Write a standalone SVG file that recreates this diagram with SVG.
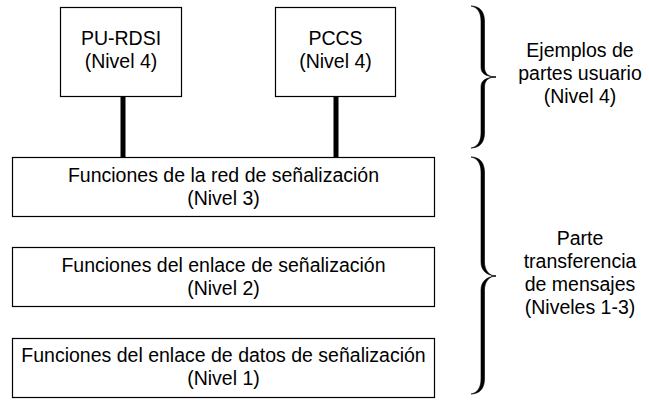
<svg xmlns="http://www.w3.org/2000/svg" width="649" height="400" viewBox="0 0 649 400">
<style>
.box{fill:#fff;stroke:#000;stroke-width:1.2}
.t{font-family:"Liberation Sans",Arial,sans-serif;font-size:19.5px;fill:#000;text-anchor:middle}
.conn{stroke:#000;stroke-width:5;fill:none}
.brace{fill:#000;stroke:#000;stroke-width:0.6}
</style>
<defs>
<path id="braceTop" class="brace" d="M0,0 C8,0 13.5,5 13.5,15 L13.5,61 C13.5,68 18,71 25,71 C18,71 13.5,74 13.5,81 L13.5,127 C13.5,137 8,142 0,142 C6,141 10,136 10,127 L10,81 C10,74 15,71.5 25,71 C15,70.5 10,68 10,61 L10,15 C10,6 6,1 0,0 Z"/>
<path id="braceBot" class="brace" d="M0,0 C8,0 13.5,5 13.5,15 L13.5,105 C13.5,113 18,119 25,119 C18,119 13.5,125 13.5,133 L13.5,222 C13.5,232 8,237 0,237 C6,236 10,231 10,222 L10,133 C10,125 15,119.5 25,119 C15,118.5 10,113 10,105 L10,15 C10,6 6,1 0,0 Z"/>
</defs>
<rect width="649" height="400" fill="#fff"/>
<g id="connectors">
<line class="conn" x1="123" y1="97" x2="123" y2="157"/>
<line class="conn" x1="336" y1="97" x2="336" y2="157"/>
</g>
<g id="pu-rdsi">
<rect class="box" x="60.5" y="7.5" width="121" height="89"/>
<text class="t" x="121" y="45">PU-RDSI</text>
<text class="t" x="121" y="68">(Nivel 4)</text>
</g>
<g id="pccs">
<rect class="box" x="275.5" y="7.5" width="120" height="89"/>
<text class="t" x="335.5" y="45">PCCS</text>
<text class="t" x="335.5" y="68">(Nivel 4)</text>
</g>
<g id="nivel3">
<rect class="box" x="12.5" y="157.5" width="422" height="59"/>
<text class="t" x="223.5" y="182">Funciones de la red de señalización</text>
<text class="t" x="223.5" y="205">(Nivel 3)</text>
</g>
<g id="nivel2">
<rect class="box" x="12.5" y="247.5" width="422" height="59"/>
<text class="t" x="223.5" y="272">Funciones del enlace de señalización</text>
<text class="t" x="223.5" y="295">(Nivel 2)</text>
</g>
<g id="nivel1">
<rect class="box" x="12.5" y="338.5" width="422" height="59"/>
<text class="t" x="223.5" y="362">Funciones del enlace de datos de señalización</text>
<text class="t" x="223.5" y="385">(Nivel 1)</text>
</g>
<g id="brace-usuario">
<use href="#braceTop" x="471" y="6"/>
<text class="t" x="580" y="57">Ejemplos de</text>
<text class="t" x="580" y="80">partes usuario</text>
<text class="t" x="580" y="103">(Nivel 4)</text>
</g>
<g id="brace-mtp">
<use href="#braceBot" x="471" y="157"/>
<text class="t" x="580" y="245">Parte</text>
<text class="t" x="580" y="268">transferencia</text>
<text class="t" x="580" y="291">de mensajes</text>
<text class="t" x="580" y="314">(Niveles 1-3)</text>
</g>
</svg>
